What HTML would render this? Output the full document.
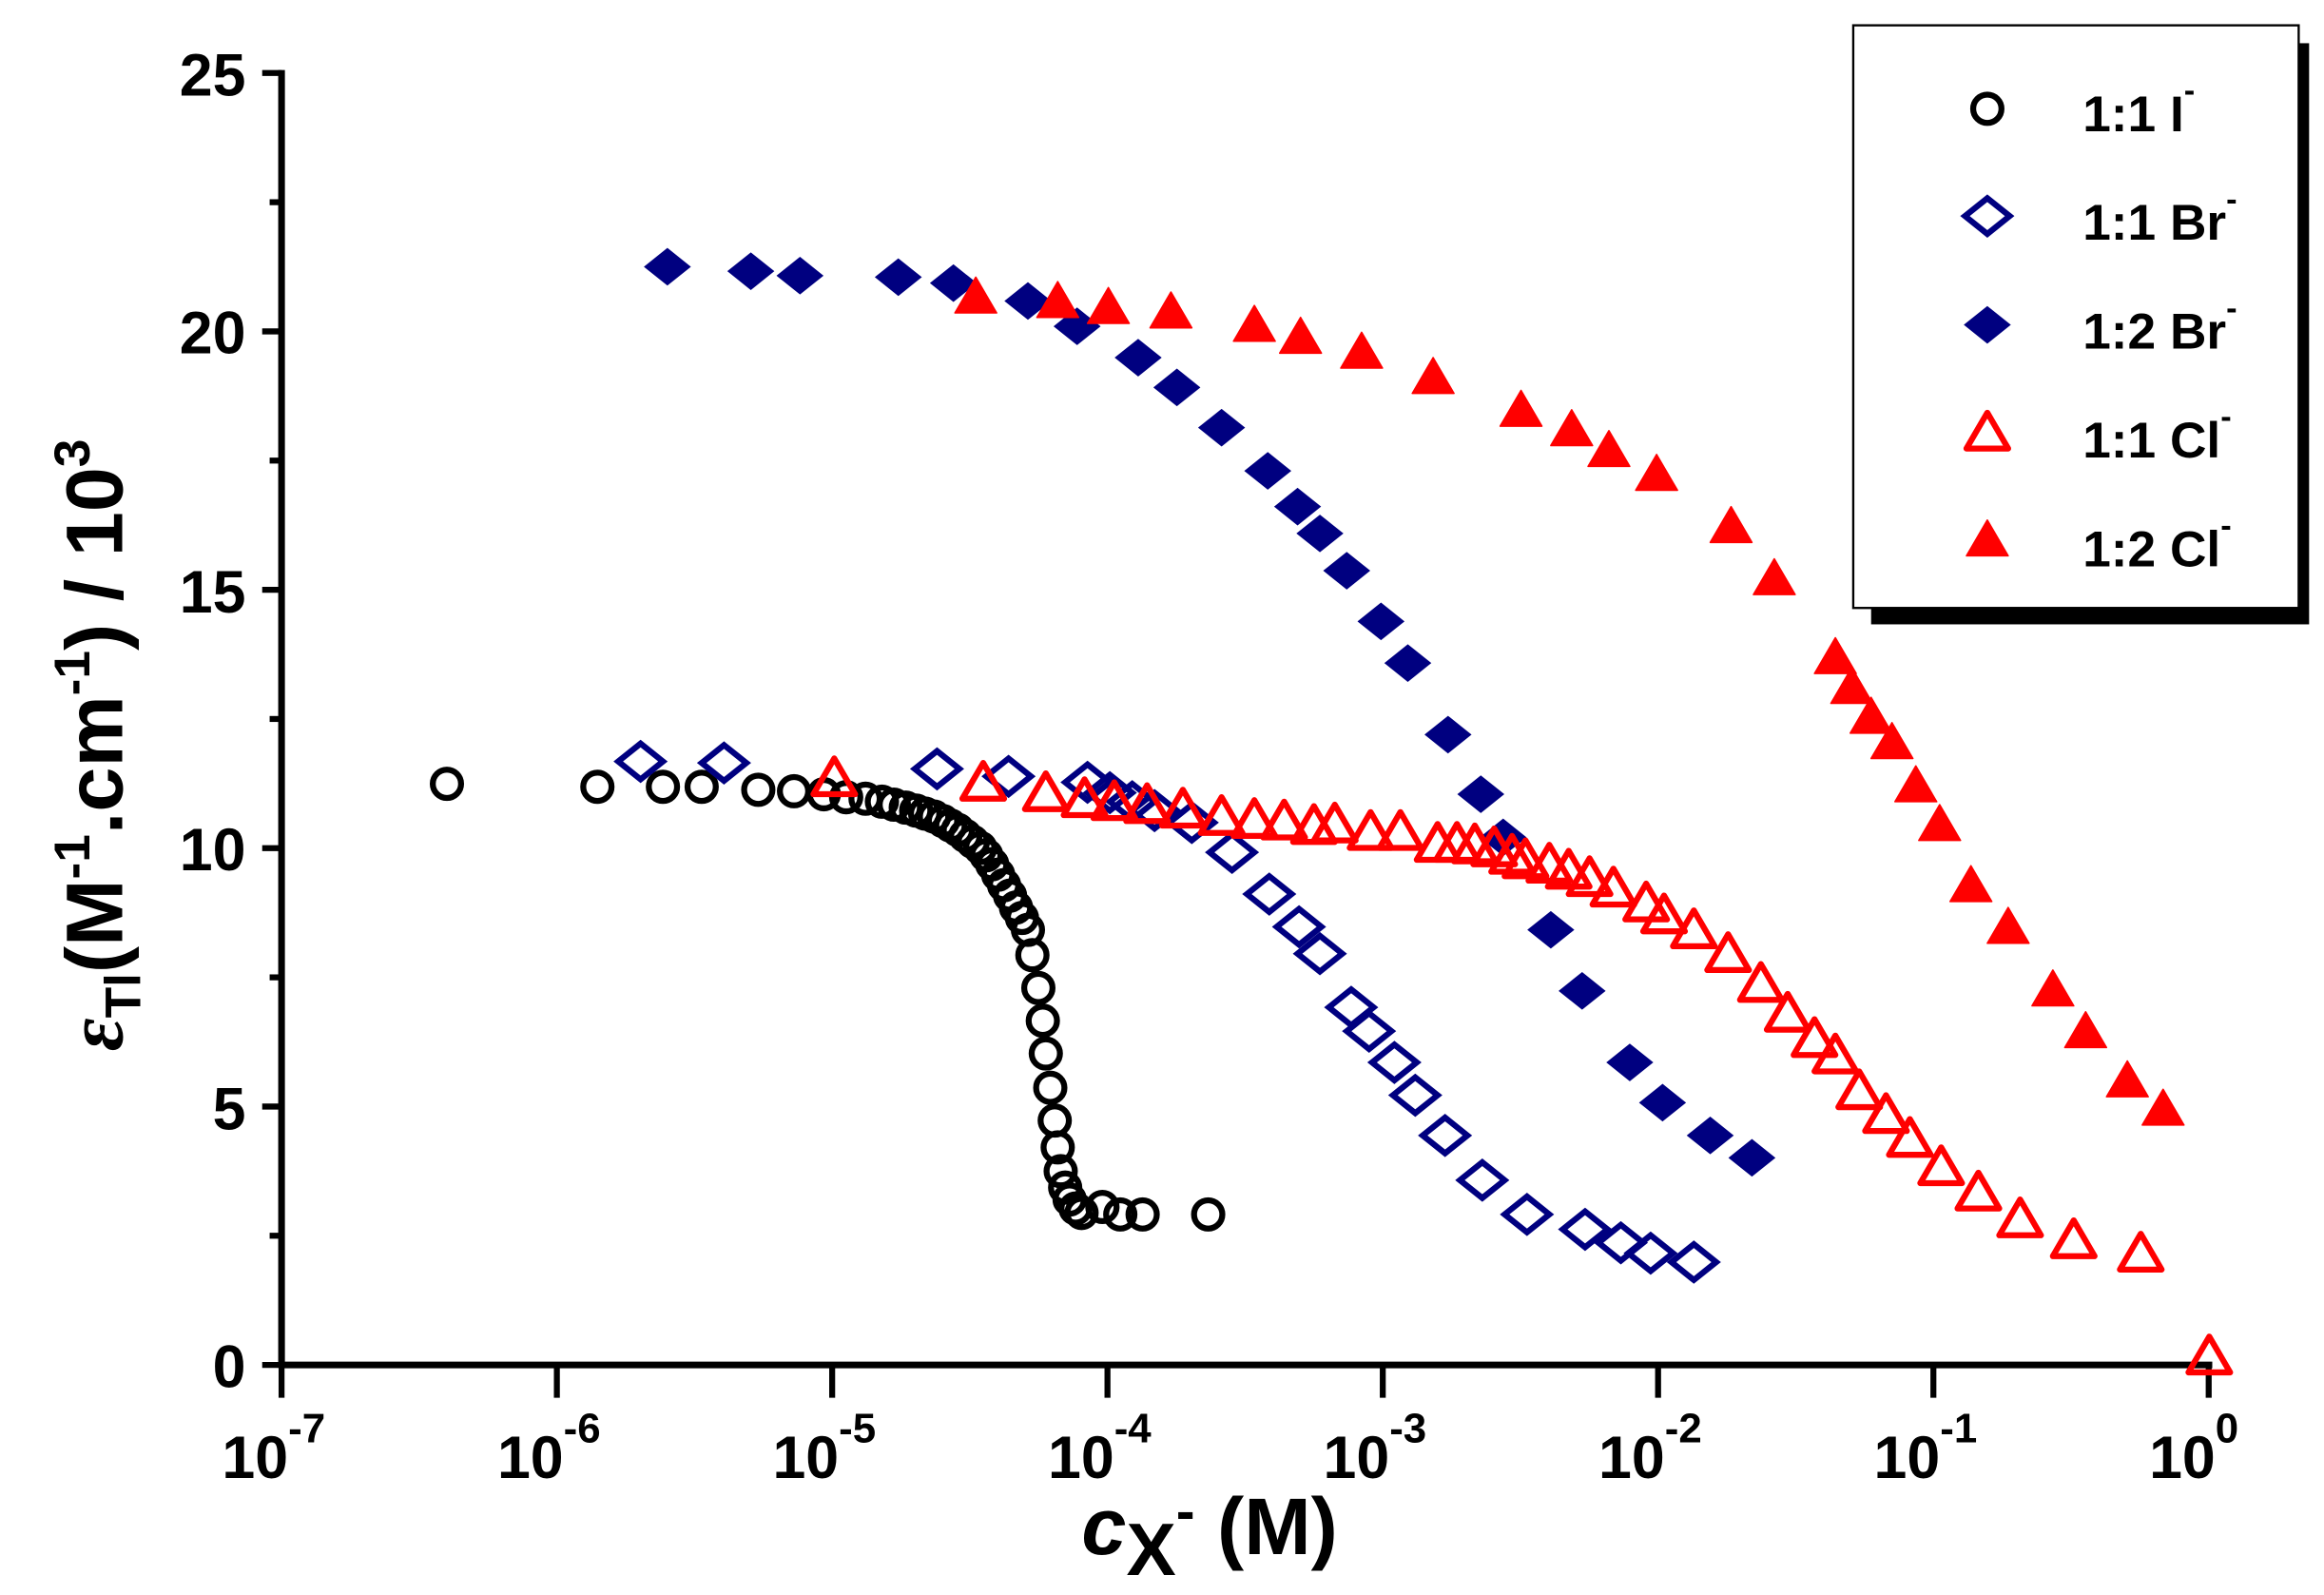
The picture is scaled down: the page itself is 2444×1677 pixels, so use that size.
<!DOCTYPE html>
<html><head><meta charset="utf-8"><style>
html,body{margin:0;padding:0;background:#fff;}
svg{display:block;}
text{font-family:"Liberation Sans",Arial,sans-serif;font-weight:bold;fill:#000;}
</style></head><body>
<svg id="s" width="2444" height="1677" viewBox="0 0 1560 1070.4" preserveAspectRatio="none" xmlns="http://www.w3.org/2000/svg">
<rect x="0" y="0" width="1560" height="1071" fill="#fff"/>
<g stroke="#000" stroke-width="4.5" fill="none">
<line x1="189" y1="47" x2="189" y2="918"/>
<line x1="187" y1="916" x2="1485" y2="916"/>
</g>
<g id="ticks" stroke="#000" stroke-width="4"></g>
<g font-size="40" text-anchor="end">
<text x="165" y="931">0</text>
<text x="165" y="758">5</text>
<text x="165" y="584">10</text>
<text x="165" y="411">15</text>
<text x="165" y="237">20</text>
<text x="165" y="64">25</text>
</g>
<g id="xl" font-size="40"></g>
<text x="726" y="1043" font-size="54"><tspan font-style="italic">c</tspan><tspan font-size="50" dy="14">X</tspan><tspan font-size="38" dy="-30">-</tspan><tspan dy="16"> (M)</tspan></text>
<text transform="translate(82,500) rotate(-90)" font-size="54" text-anchor="middle"><tspan font-style="italic" font-family="Liberation Serif,serif">ε</tspan><tspan font-size="34" dy="12">Tl</tspan><tspan dy="-12">(M</tspan><tspan font-size="34" dy="-22">-1</tspan><tspan dy="22">.cm</tspan><tspan font-size="34" dy="-22">-1</tspan><tspan dy="22">) / 10</tspan><tspan font-size="34" dy="-22">3</tspan></text>
<g id="data"></g>
<rect x="1256" y="29" width="294" height="390" fill="#000"/>
<rect x="1244" y="17" width="299" height="391" fill="#fff" stroke="#000" stroke-width="1.5"/>
<g id="leg"></g>
<g font-size="34">
<text x="1398" y="88">1:1 I<tspan font-size="22" dy="-20">-</tspan></text>
<text x="1398" y="161">1:1 Br<tspan font-size="22" dy="-20">-</tspan></text>
<text x="1398" y="234">1:2 Br<tspan font-size="22" dy="-20">-</tspan></text>
<text x="1398" y="307">1:1 Cl<tspan font-size="22" dy="-20">-</tspan></text>
<text x="1398" y="380">1:2 Cl<tspan font-size="22" dy="-20">-</tspan></text>
</g>
</svg>
<script>
var NS="http://www.w3.org/2000/svg";
function el(p,t,a){var e=document.createElementNS(NS,t);for(var k in a)e.setAttribute(k,a[k]);p.appendChild(e);return e;}
var T=document.getElementById('ticks');
for(var i=0;i<=10;i++){var y=916-i*86.7;var big=i%2==0;el(T,'line',{x1:big?176:181,y1:y,x2:189,y2:y});}
var XL=document.getElementById('xl');
for(var d=0;d<=7;d++){var x=189+d*184.8;el(T,'line',{x1:x,y1:916,x2:x,y2:938});
var t=el(XL,'text',{x:x-40,y:992});t.textContent='10';var s=el(t,'tspan',{'font-size':'28',dy:'-24'});s.textContent=(d==7?'0':'-'+(7-d));}
var D=document.getElementById('data');
function circ(g,x,y){el(g,'circle',{cx:x,cy:y,r:9.5,fill:'none',stroke:'#000','stroke-width':4});}
function dia(g,x,y,f){var c=f?'#000080':'none';el(g,'polygon',{points:(x-15)+','+y+' '+x+','+(y-12)+' '+(x+15)+','+y+' '+x+','+(y+12),fill:c,stroke:'#000080','stroke-width':f?1:4});}
function tri(g,x,y,f){el(g,'polygon',{points:(x-14)+','+(y+11)+' '+x+','+(y-13)+' '+(x+14)+','+(y+11),fill:f?'#ff0000':'none',stroke:'#ff0000','stroke-width':f?1:4,'stroke-linejoin':'round'});}
var C=[[300,526],[401,528],[445,528],[471,528],[509,530],[533,531],[553,533],[568,535],[581,536],[592,538],[600,540],[608,542],[615,544],[621,546],[627,548],[633,551],[638,554],[643,557],[648,561],[653,565],[658,569],[662,574],[666,580],[670,587],[674,594],[678,601],[682,609],[686,616],[690,624],[693,641],[697,663],[700,685],[702,707],[705,730],[708,752],[710,770],[712,786],[715,797],[718,805],[722,811],[726,814],[740,810],[752,815],[767,815],[811,815]];
var OD=[[430,511],[486,512],[629,516],[677,521],[730,525],[745,532],[760,538],[775,544],[800,552],[827,572],[852,600],[872,622],[886,640],[907,676],[919,692],[936,713],[950,735],[970,762],[995,792],[1025,815],[1064,825],[1088,834],[1108,841],[1137,847]];
var FD=[[448,179],[504,182],[537,185],[603,186],[640,190],[690,202],[723,219],[764,240],[790,260],[820,287],[851,316],[871,340],[886,358],[904,383],[927,417],[945,445],[972,493],[994,533],[1009,562],[1041,624],[1062,665],[1094,713],[1116,740],[1148,762],[1176,777]];
var OT=[[560,522],[660,525],[702,532],[728,536],[748,538],[770,540],[794,543],[820,548],[842,550],[862,551],[882,554],[896,553],[920,558],[940,558],[965,566],[978,566],[990,567],[1003,569],[1015,574],[1024,577],[1040,580],[1053,584],[1067,589],[1083,596],[1105,606],[1117,614],[1137,624],[1160,640],[1182,660],[1200,680],[1218,697],[1232,708],[1248,732],[1266,748],[1282,764],[1303,783],[1328,800],[1356,818],[1392,832],[1437,841],[1483,910]];
var FT=[[655,199],[710,202],[744,206],[786,209],[842,218],[873,226],[914,236],[962,253],[1021,275],[1055,288],[1080,302],[1112,318],[1162,353],[1191,388],[1232,441],[1243,461],[1256,481],[1270,498],[1286,527],[1302,553],[1323,594],[1348,622],[1378,664],[1400,692],[1428,725],[1452,744]];
C.forEach(function(p){circ(D,p[0],p[1]);});
OD.forEach(function(p){dia(D,p[0],p[1],0);});
FD.forEach(function(p){dia(D,p[0],p[1],1);});
OT.forEach(function(p){tri(D,p[0],p[1],0);});
FT.forEach(function(p){tri(D,p[0],p[1],1);});
var L=document.getElementById('leg');
circ(L,1334,73);dia(L,1334,145,0);dia(L,1334,218,1);tri(L,1334,290,0);tri(L,1334,362,1);
</script>
</body></html>
